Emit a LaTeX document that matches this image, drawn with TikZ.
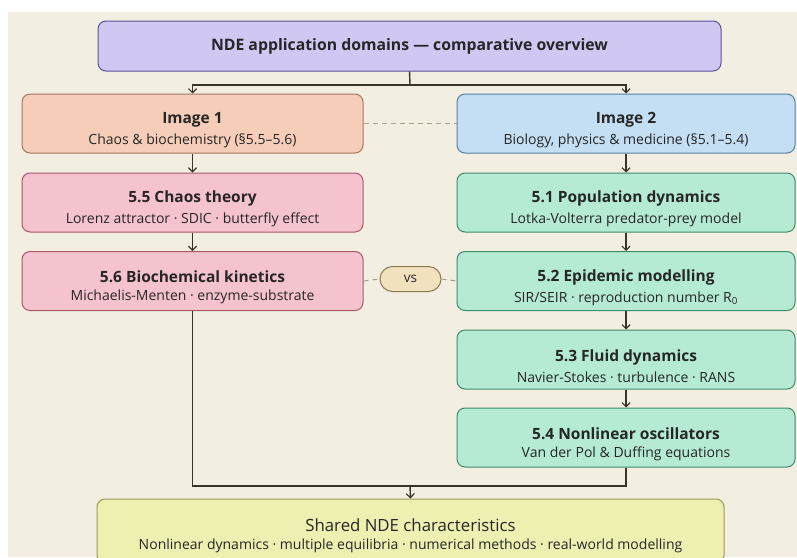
\documentclass[tikz,border=0pt]{standalone}
\usepackage{fontspec}
\setmainfont{Open Sans}
\usetikzlibrary{arrows.meta,positioning}
\definecolor{bgc}{HTML}{F2EEE2}
\definecolor{txt}{HTML}{262626}
\definecolor{lnc}{HTML}{3A3428}
\definecolor{dsh}{HTML}{A89F86}
\definecolor{topF}{HTML}{D0C8F2}\definecolor{topD}{HTML}{5C5298}
\definecolor{peaF}{HTML}{F5CDB8}\definecolor{peaD}{HTML}{A87560}
\definecolor{bluF}{HTML}{C4DEF3}\definecolor{bluD}{HTML}{5282A8}
\definecolor{pinF}{HTML}{F5C3CD}\definecolor{pinD}{HTML}{A8596C}
\definecolor{grnF}{HTML}{B5EBD3}\definecolor{grnD}{HTML}{3F8B6B}
\definecolor{vsF}{HTML}{F2E1BF}\definecolor{vsD}{HTML}{8C7B4C}
\definecolor{yelF}{HTML}{EEF0B2}\definecolor{yelD}{HTML}{9A9A50}
\tikzset{
  boxbase/.style={rectangle, rounded corners=8pt, line width=1pt, align=center, text=txt, inner sep=0pt},
  topbox/.style={boxbase, fill=topF, draw=topD, minimum width=623pt, minimum height=50pt},
  peabox/.style={boxbase, fill=peaF, draw=peaD, minimum width=341pt, minimum height=59pt},
  blubox/.style={boxbase, fill=bluF, draw=bluD, minimum width=338pt, minimum height=59pt},
  pinbox/.style={boxbase, fill=pinF, draw=pinD, minimum width=341pt, minimum height=59pt},
  grnbox/.style={boxbase, fill=grnF, draw=grnD, minimum width=338pt, minimum height=59pt},
  yelbox/.style={boxbase, fill=yelF, draw=yelD, minimum width=627pt, minimum height=64pt},
  vsbox/.style={boxbase, rounded corners=12.5pt, fill=vsF, draw=vsD, minimum width=61pt, minimum height=25pt, font=\fontsize{13.5}{16}\selectfont},
  boxtext/.style={align=center, text=txt, inner sep=0pt},
  conn/.style={draw=lnc, line width=1.4pt, -{Straight Barb[length=4pt,width=8pt,line width=1.2pt]}},
  plain/.style={draw=lnc, line width=1.4pt},
  dsl/.style={draw=dsh, line width=1pt, dash pattern=on 5pt off 4pt},
}
\newcommand{\ttl}[1]{{\fontsize{15.5}{19}\selectfont\bfseries #1}}
\newcommand{\sbt}[1]{{\fontsize{14}{17}\selectfont #1}}
\newcommand{\twoline}[2]{\ttl{#1}\\[6pt]\sbt{#2}}
\begin{document}
\begin{tikzpicture}[x=1pt,y=-1pt]
\useasboundingbox (0,0) rectangle (797,557);
\fill[white] (0,0) rectangle (797,557);
\fill[bgc] (8,12) rectangle (797,557);
\begin{scope}
\clip (0,0) rectangle (797,557);
\node[topbox] (top) at (409.5,46) {{\fontsize{15.8}{19}\selectfont\bfseries NDE application domains — comparative overview}};
\node[peabox] (img1) at (192.5,123.5) {};
\node[boxtext] (img1t) at ([yshift=-6.5pt]img1.center) {\twoline{Image 1}{Chaos \& biochemistry (§5.5–5.6)}};
\node[blubox] (img2) at (626,123.5) {};
\node[boxtext] (img2t) at ([yshift=-6.5pt]img2.center) {\twoline{Image 2}{Biology, physics \& medicine (§5.1–5.4)}};
\node[pinbox] (c55) at (192.5,202.5) {};
\node[boxtext] (c55t) at ([yshift=-6.5pt]c55.center) {\twoline{5.5 Chaos theory}{Lorenz attractor · SDIC · butterfly effect}};
\node[pinbox] (c56) at (192.5,281) {};
\node[boxtext] (c56t) at ([yshift=-6.5pt]c56.center) {\twoline{5.6 Biochemical kinetics}{Michaelis-Menten · enzyme-substrate}};
\node[grnbox] (c51) at (626,202.5) {};
\node[boxtext] (c51t) at ([yshift=-6.5pt]c51.center) {\twoline{5.1 Population dynamics}{Lotka-Volterra predator-prey model}};
\node[grnbox] (c52) at (626,281) {};
\node[boxtext] (c52t) at ([yshift=-6.5pt]c52.center) {\twoline{5.2 Epidemic modelling}{SIR/SEIR · reproduction number R\textsubscript{0}}};
\node[grnbox] (c53) at (626,359.5) {};
\node[boxtext] (c53t) at ([yshift=-6.5pt]c53.center) {\twoline{5.3 Fluid dynamics}{Navier-Stokes · turbulence · RANS}};
\node[grnbox] (c54) at (626,437.5) {};
\node[boxtext] (c54t) at ([yshift=-6.5pt]c54.center) {\twoline{5.4 Nonlinear oscillators}{Van der Pol \& Duffing equations}};
\node[vsbox] (vs) at (410.5,279) {vs};
\node[yelbox] (sh) at (410.5,531) {};
\node[boxtext] (sht) at ([yshift=-5pt]sh.center) {{\fontsize{16.8}{20}\selectfont Shared NDE characteristics}\\[6pt]\sbt{Nonlinear dynamics · multiple equilibria · numerical methods · real-world modelling}};
\coordinate (split) at (410,85);
\coordinate (merge) at (410,486);
\draw[plain] (top.south) -- (split);
\draw[conn] (split) -| (img1.north);
\draw[conn] (split) -| (img2.north);
\draw[dsl] (img1.east) -- (img2.west);
\draw[conn] (img1) -- (c55);
\draw[conn] (c55) -- (c56);
\draw[conn] (img2) -- (c51);
\draw[conn] (c51) -- (c52);
\draw[conn] (c52) -- (c53);
\draw[conn] (c53) -- (c54);
\draw[dsl] (c56.east) -- (vs.west);
\draw[dsl] (vs.east) -- (c52.west);
\draw[plain] (c56.south) |- (merge);
\draw[plain] (c54.south) |- (merge);
\draw[conn] (merge) -- (sh.north);
\end{scope}
\end{tikzpicture}
\end{document}
